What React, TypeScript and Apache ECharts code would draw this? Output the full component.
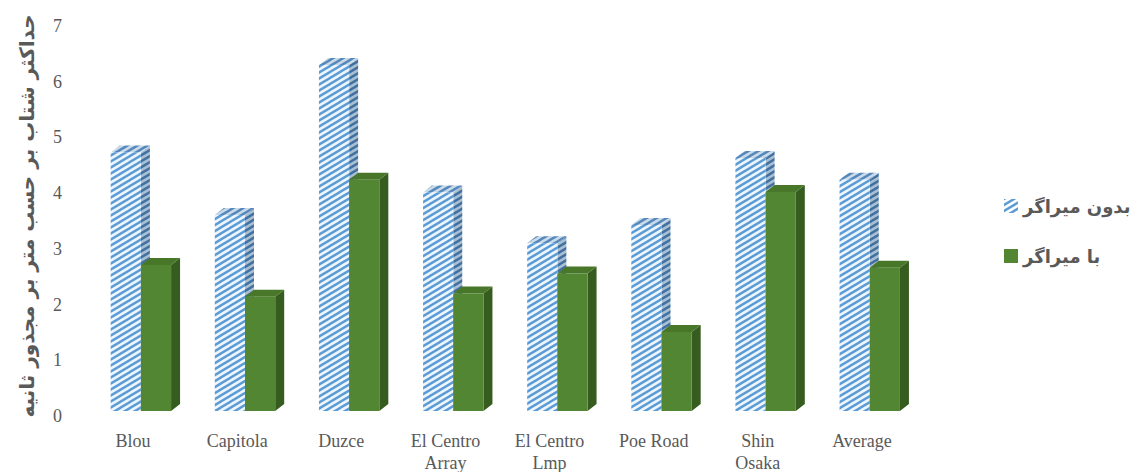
import React, { useEffect, useRef } from "react";
import * as echarts from "echarts";

const categories = ["Blou", "Capitola", "Duzce", "El Centro\nArray", "El Centro\nLmp", "Poe Road", "Shin\nOsaka", "Average"];
const withoutDamper = [4.64, 3.52, 6.21, 3.92, 3.01, 3.34, 4.54, 4.15];
const withDamper = [2.62, 2.05, 4.15, 2.11, 2.47, 1.42, 3.93, 2.57];
const seriesNames = ["بدون میراگر", "با میراگر"];
const yTicks = { min: 0, max: 7, interval: 1 };
const yTitle = "حداکثر شتاب بر حسب متر بر مجذور ثانیه";

function makeStripes(stripe: string, bg: string) {
  const c = document.createElement("canvas");
  c.width = 10;
  c.height = 6;
  const ctx = c.getContext("2d")!;
  ctx.fillStyle = bg;
  ctx.fillRect(0, 0, 10, 6);
  ctx.strokeStyle = stripe;
  ctx.lineWidth = 2.4;
  for (let j = -1; j <= 1; j++) {
    ctx.beginPath();
    ctx.moveTo(-10, 12 + 6 * j);
    ctx.lineTo(20, -6 + 6 * j);
    ctx.stroke();
  }
  return { image: c, repeat: "repeat", imageWidth: 10, imageHeight: 6 } as any;
}

export default function App() {
  const ref = useRef<HTMLDivElement>(null);
  useEffect(() => {
    if (!ref.current) return;
    const chart = echarts.init(ref.current, undefined, { renderer: "svg" });
    const blueFront = makeStripes("#5b9bd5", "#eef6fd");
    const blueTop = makeStripes("#5587ba", "#c9dbea");
    const blueSide = makeStripes("#41709f", "#a9bfd4");
    const styles = [
      { front: blueFront, top: blueTop, side: blueSide },
      { front: "#538633", top: "#48772a", side: "#375c1f" },
    ];
    const makeRender = (si: number) => (params: any, api: any) => {
      const i = api.value(0);
      const v = api.value(1);
      const base = api.coord([i, 0]);
      const top = api.coord([i, v]);
      const band = api.size([1, 0])[0];
      const w = band * 0.29;
      const x0 = base[0] - band * 0.215 + si * w;
      const dx = 9;
      const dy = 7;
      const s = styles[si];
      return {
        type: "group",
        children: [
          {
            type: "polygon",
            shape: { points: [[x0 + w, top[1]], [x0 + w + dx, top[1] - dy], [x0 + w + dx, base[1] - dy], [x0 + w, base[1]]] },
            style: { fill: s.side },
          },
          {
            type: "polygon",
            shape: { points: [[x0, top[1]], [x0 + dx, top[1] - dy], [x0 + w + dx, top[1] - dy], [x0 + w, top[1]]] },
            style: { fill: s.top },
          },
          {
            type: "rect",
            shape: { x: x0, y: top[1], width: w, height: base[1] - top[1] },
            style: { fill: s.front },
          },
        ],
      };
    };
    chart.setOption({
      animation: false,
      backgroundColor: "#ffffff",
      grid: { left: 81, right: 226, top: 21, bottom: 61, outerBoundsMode: "none", containLabel: false },
      legend: {
        orient: "vertical",
        left: 999,
        top: 192,
        itemWidth: 14,
        itemHeight: 14,
        itemGap: 32,
        icon: "rect",
        textStyle: { fontFamily: "DejaVu Sans", fontWeight: "bold", fontSize: 18, color: "#595959" },
        data: [
          { name: seriesNames[0], itemStyle: { color: makeStripes("#5b9bd5", "#ffffff") } },
          { name: seriesNames[1], itemStyle: { color: "#538633" } },
        ],
      },
      xAxis: {
        type: "category",
        data: categories,
        axisLine: { show: false },
        axisTick: { show: false },
        axisLabel: {
          interval: 0,
          margin: 19,
          fontFamily: "Liberation Serif",
          fontSize: 18,
          lineHeight: 22,
          color: "#595959",
        },
      },
      yAxis: {
        type: "value",
        min: yTicks.min,
        max: yTicks.max,
        interval: yTicks.interval,
        splitLine: { show: false },
        axisLine: { show: false },
        axisTick: { show: false },
        axisLabel: {
          margin: 19,
          fontFamily: "Liberation Serif",
          fontSize: 18,
          color: "#595959",
          verticalAlign: "top",
          lineHeight: 10,
        },
        name: yTitle,
        nameLocation: "middle",
        nameRotate: 90,
        nameGap: 44,
        nameTextStyle: { fontFamily: "DejaVu Sans", fontWeight: "bold", fontSize: 20, color: "#595959" },
      },
      series: [
        {
          type: "custom",
          name: seriesNames[0],
          itemStyle: { color: blueFront },
          renderItem: makeRender(0),
          encode: { x: 0, y: 1 },
          clip: false,
          data: withoutDamper.map((v, i) => [i, v]),
        },
        {
          type: "custom",
          name: seriesNames[1],
          itemStyle: { color: "#538633" },
          renderItem: makeRender(1),
          encode: { x: 0, y: 1 },
          clip: false,
          data: withDamper.map((v, i) => [i, v]),
        },
      ],
    });
    return () => chart.dispose();
  }, []);
  return <div ref={ref} style={{ width: 1140, height: 472, position: "absolute", left: 0, top: 0 }} />;
}
